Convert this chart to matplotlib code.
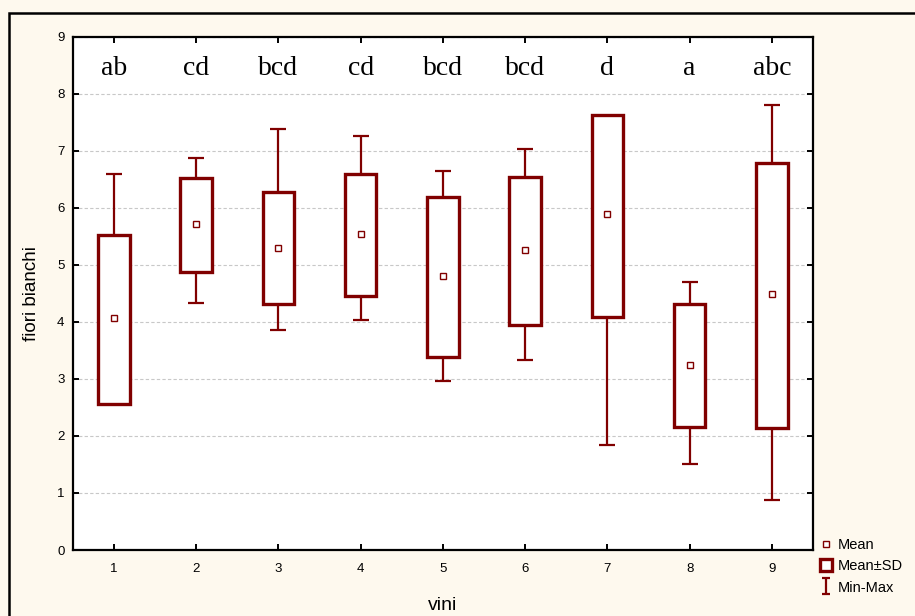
import matplotlib
matplotlib.use("Agg")
import matplotlib.pyplot as plt
from matplotlib.lines import Line2D
from matplotlib.patches import Rectangle
from matplotlib.path import Path

# data
vini = [1, 2, 3, 4, 5, 6, 7, 8, 9]
means = [4.07, 5.71, 5.29, 5.54, 4.80, 5.26, 5.89, 3.25, 4.49]
sd_hi = [5.53, 6.52, 6.27, 6.60, 6.19, 6.54, 7.63, 4.32, 6.79]
sd_lo = [2.56, 4.87, 4.31, 4.46, 3.39, 3.95, 4.09, 2.15, 2.14]
v_max = [6.60, 6.87, 7.38, 7.26, 6.65, 7.03, 7.63, 4.70, 7.81]
v_min = [2.56, 4.33, 3.86, 4.04, 2.96, 3.33, 1.84, 1.51, 0.88]
letters = ["ab", "cd", "bcd", "cd", "bcd", "bcd", "d", "a", "abc"]

red = "#800000"
bg = "#fef9ee"

plt.rcParams['font.family'] = ['Liberation Sans', 'DejaVu Sans']

fig = plt.figure(figsize=(9.15, 6.16), dpi=100, facecolor=bg)
ax = fig.add_axes([0.0795, 0.1071, 0.8090, 0.8333])
ax.set_facecolor("white")

# outer frame
fig.add_artist(Rectangle((9 / 915, -0.2), 1.5, 1.2 - 13 / 616, transform=fig.transFigure,
                         fill=False, edgecolor="black", linewidth=1.8))

# whiskers and caps
box_w = 0.385
cap_w = 0.195
ax.vlines(vini, sd_hi, v_max, color=red, lw=1.6, zorder=2)
ax.vlines(vini, v_min, sd_lo, color=red, lw=1.6, zorder=2)
xs = [x for x, hi, mx in zip(vini, sd_hi, v_max) if mx > hi]
ax.hlines([mx for hi, mx in zip(sd_hi, v_max) if mx > hi], [x - cap_w / 2 for x in xs],
          [x + cap_w / 2 for x in xs], color=red, lw=1.6, zorder=2)
xs = [x for x, lo, mn in zip(vini, sd_lo, v_min) if mn < lo]
ax.hlines([mn for lo, mn in zip(sd_lo, v_min) if mn < lo], [x - cap_w / 2 for x in xs],
          [x + cap_w / 2 for x in xs], color=red, lw=1.6, zorder=2)

# mean +- SD boxes
ax.bar(vini, [h - l for h, l in zip(sd_hi, sd_lo)], bottom=sd_lo, width=box_w,
       color="white", edgecolor=red, linewidth=2.4, zorder=3)

# means
ax.plot(vini, means, ls="none", marker="s", ms=5, mfc="white", mec=red, mew=1.0, zorder=4)

# letters of significance
for x, t in zip(vini, letters):
    ax.text(x, 8.33, t, ha="center", va="baseline", fontsize=20,
            family=["Liberation Serif", "DejaVu Serif"])

ax.set_xlim(0.5, 9.5)
ax.set_ylim(0, 9)
ax.set_xticks(vini)
ax.set_yticks(range(0, 10))
ax.yaxis.grid(True, color="#c8c8c8", linestyle=(0, (3, 2)), linewidth=0.8)
ax.set_axisbelow(True)
ax.tick_params(direction="in", length=4, width=1.4, top=True, right=True, labelsize=9.5,
               colors="black")
ax.tick_params(axis="x", pad=9)
ax.tick_params(axis="y", pad=6)
for s in ax.spines.values():
    s.set_linewidth(1.6)

ax.set_xlabel("vini", fontsize=14, labelpad=16)
ax.set_ylabel("fiori bianchi", fontsize=13.5, labelpad=12)

# legend
minmax = Path([(-0.5, 1), (0.5, 1), (0, 1), (0, -1), (-0.5, -1), (0.5, -1)],
              [Path.MOVETO, Path.LINETO, Path.MOVETO, Path.LINETO, Path.MOVETO, Path.LINETO])
handles = [
    Line2D([], [], ls="none", marker="s", ms=5, mfc="white", mec=red, mew=1.0),
    Line2D([], [], ls="none", marker="s", ms=8, mfc="white", mec=red, mew=2.4),
    Line2D([], [], ls="none", marker=minmax, ms=11.5, mec=red, mew=1.6),
]
fig.legend(handles, ["Mean", "Mean±SD", "Min-Max"], loc="upper left",
           bbox_to_anchor=(819 / 915, 1 - 538 / 616), frameon=False, fontsize=10.5,
           handlelength=1.0, handletextpad=0.3, labelspacing=0.5, borderpad=0,
           borderaxespad=0)

fig.savefig("out.png", dpi=100, facecolor=bg)
